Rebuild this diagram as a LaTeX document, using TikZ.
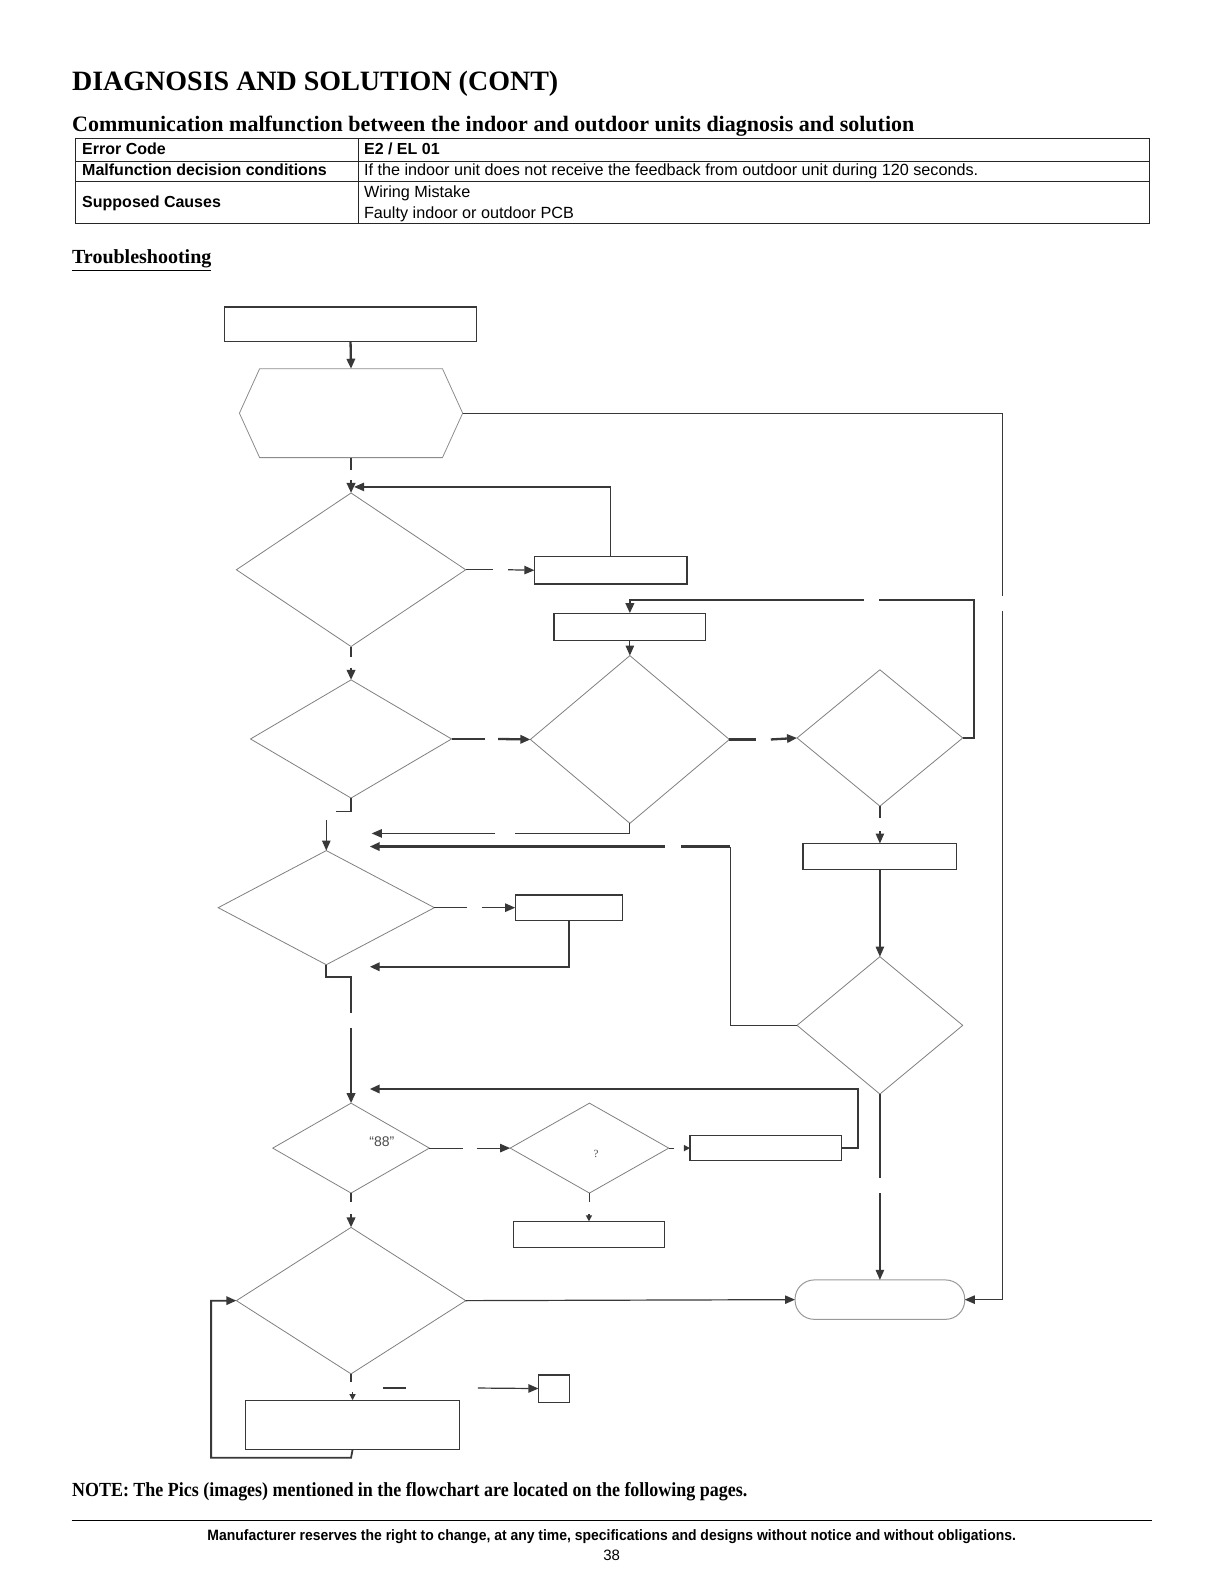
\documentclass[tikz,border=0pt]{standalone}
\usepackage{fontspec}
\setmainfont{Liberation Serif}
\setsansfont{Liberation Sans}
\usetikzlibrary{shapes.geometric,arrows.meta,calc}
\def\px{0.5051pt}
\begin{document}
\begin{tikzpicture}[x=0.5051pt,y=-0.5051pt,
  dia/.style={diamond, draw=black!50, line width=0.4pt, inner sep=0pt, outer sep=0pt},
  box/.style={rectangle, draw=black!78, line width=0.65pt, inner sep=0pt, outer sep=0pt},
  ln/.style={draw=black!78, line width=0.6pt},
  tk/.style={draw=black!78, line width=1.15pt},
  arr/.style={-{Triangle[length=5pt,width=4.2pt]}},
  sarr/.style={-{Triangle[length=3pt,width=3pt]}},
  tab/.style={font=\sffamily\fontsize{8.1}{9.6}\selectfont, anchor=base west, inner sep=0pt},
  tabb/.style={tab, font=\sffamily\bfseries\fontsize{8}{9.6}\selectfont}
]
\useasboundingbox[fill=white] (0,0) rectangle (1212,1568);

% ---- headings ----
\node[anchor=base west, inner sep=0pt, font=\bfseries\fontsize{14}{16}\selectfont] (title) at (71,90) {DIAGNOSIS AND SOLUTION (CONT)};
\node[anchor=base west, inner sep=0pt, font=\bfseries\fontsize{11}{13}\selectfont] (sub) at (71,130) {Communication malfunction between the indoor and outdoor units diagnosis and solution};

% ---- table ----
\draw[black!85, line width=0.6pt] (75,137) rectangle (1138,221);
\draw[black!85, line width=0.6pt] (75,160) -- (1138,160) (75,180) -- (1138,180) (355,137) -- (355,221);
\node[tabb] (t11) at (81,152.5) {Error Code};
\node[tabb] (t12) at (360,152.5) {E2 / EL 01};
\node[tabb] (t21) at (81,174) {Malfunction decision conditions};
\node[tab] (t22) at (360,174) {If the indoor unit does not receive the feedback from outdoor unit during 120 seconds.};
\node[tabb] (t31) at (81,205.5) {Supposed Causes};
\node[tab] (t32) at (360,196) {Wiring Mistake};
\node[tab] (t33) at (360,216) {Faulty indoor or outdoor PCB};

\node[anchor=base west, inner sep=0pt, font=\bfseries\fontsize{10}{12}\selectfont] (ts) at (71,261) {\underline{Troubleshooting}};

% ---- flowchart nodes ----
\node[box, minimum width=250*\px, minimum height=34*\px] (b0) at (347,321) {};
\node[minimum width=221*\px, minimum height=88*\px, inner sep=0pt, outer sep=0pt] (hex) at (347.5,409) {};
\draw[black!45, line width=0.4pt] (hex.west) -- ($(hex.north west)+(20,0)$) -- ($(hex.north east)+(-20,0)$) -- (hex.east) -- ($(hex.south east)+(-20,0)$) -- ($(hex.south west)+(20,0)$) -- cycle;

\node[dia, minimum width=227*\px, minimum height=152*\px] (d1) at (347.5,564) {};
\node[box, minimum width=151*\px, minimum height=27*\px] (r1) at (604.5,564.5) {};
\node[box, minimum width=150*\px, minimum height=27*\px] (r2) at (623.5,620.5) {};
\node[dia, minimum width=199*\px, minimum height=117*\px] (d2) at (347.5,731.5) {};
\node[dia, minimum width=197*\px, minimum height=166*\px] (d3) at (623.5,732) {};
\node[dia, minimum width=164*\px, minimum height=135*\px] (d4) at (871,730.5) {};
\node[box, minimum width=152*\px, minimum height=26*\px] (r3) at (871,848) {};
\node[dia, minimum width=164*\px, minimum height=136*\px] (d5) at (871,1015) {};
\node[dia, minimum width=214*\px, minimum height=113*\px] (d6) at (323,898.5) {};
\node[box, minimum width=106*\px, minimum height=25*\px] (r4) at (563,898.5) {};
\node[dia, minimum width=155*\px, minimum height=89*\px] (d7) at (347.5,1136.5) {};
\node[dia, minimum width=157*\px, minimum height=89*\px] (d8) at (583.5,1136.5) {};
\node[box, minimum width=150*\px, minimum height=25*\px] (r5) at (758,1136.5) {};
\node[box, minimum width=150*\px, minimum height=26*\px] (r6) at (583,1222) {};
\node[dia, minimum width=227*\px, minimum height=145*\px] (d9) at (347.5,1287.5) {};
\node[rectangle, rounded corners=19*\px, draw=black!40, line width=0.5pt, minimum width=168*\px, minimum height=39*\px, inner sep=0pt, outer sep=0pt] (term) at (871,1286.5) {};
\node[box, minimum width=212*\px, minimum height=49*\px] (r7) at (349,1410.5) {};
\node[box, minimum width=31*\px, minimum height=27*\px] (r8) at (548.5,1374.5) {};

\node[font=\sffamily\fontsize{7}{8}\selectfont, text=black!70, inner sep=0pt] (l88) at (378,1130) {“88”};
\node[font=\fontsize{5.5}{6}\selectfont, text=black!70, inner sep=0pt] (lq) at (590,1142) {?};

% ---- connectors ----
\draw[tk, arr] (b0.south) -- (hex.north);
\draw[ln] (hex.east) -- (992,409) -- (992,590);
\draw[ln, arr] (992,605) -- (992,1286.5) -- (term.east);

\draw[tk] (hex.south) -- ++(0,12);
\draw[tk, arr] ($(d1.north)+(0,-13)$) -- (d1.north);
\draw[ln, arr] (r1.north) |- ($(d1.north)+(3,-6)$);

\draw[ln] (d1.east) -- ++(27,0);
\draw[ln, arr] ($(d1.east)+(42,0)$) -- (r1.west);

\draw[tk] (d1.south) -- ++(0,10);
\draw[tk, arr] ($(d2.north)+(0,-12)$) -- (d2.north);

\draw[tk] (d2.east) -- ++(33,0);
\draw[tk, arr] ($(d2.east)+(46,0)$) -- (d3.west);
\draw[ln, arr] (r2.south) -- (d3.north);
\draw[tk] (d3.east) -- ++(26,0);
\draw[tk, arr] ($(d3.east)+(41,0)$) -- (d4.west);

\draw[tk] (d4.east) -- (964,730.5) -- (964,594) -- (870,594);
\draw[tk, arr] (855,594) -| (r2.north);

\draw[ln] (d4.south) -- ++(0,12);
\draw[ln, arr] ($(r3.north)+(0,-12)$) -- (r3.north);
\draw[ln, arr] (r3.south) -- (d5.north);

\draw[ln] (d5.west) -- (723,1015) -- (723,838);
\draw[tk] (723,838) -- (674,838);
\draw[tk, arr] (658,838) -- (366,838);

\draw[ln] (d3.south) -- (623.5,825) -- (510,825);
\draw[ln, arr] (490,825) -- (368,825);

\draw[ln] (d2.south) -- (347.5,803) -- (333,803);
\draw[ln, arr] (323,812) -- (d6.north);

\draw[ln] (d6.east) -- ++(32,0);
\draw[ln, arr] ($(d6.east)+(47,0)$) -- (r4.west);
\draw[tk, arr] (r4.south) |- (366,957);

\draw[tk] (d6.south) -- (323,967) -- (347.5,967) -- (347.5,1003);
\draw[tk, arr] (347.5,1018) -- (d7.north);

\draw[tk, arr] (r5.east) -- (849,1136.5) -- (849,1078) -- (366,1078);

\draw[ln] (d7.east) -- ++(33,0);
\draw[ln, arr] ($(d7.east)+(47,0)$) -- (d8.west);
\draw[ln] (d8.east) -- ++(5,0);
\draw[ln, sarr] ($(r5.west)+(-6,0)$) -- (r5.west);
\draw[ln] (d8.south) -- ++(0,9);
\draw[ln, sarr] ($(r6.north)+(0,-7)$) -- (r6.north);

\draw[ln] (d7.south) -- ++(0,9);
\draw[tk, arr] ($(d9.north)+(0,-13)$) -- (d9.north);

\draw[ln, arr] (d9.east) -- (term.west);
\draw[ln] (d5.south) -- (871,1166);
\draw[ln, arr] (871,1181) -- (term.north);

\draw[ln] (d9.south) -- ++(0,8);
\draw[ln, sarr] ($(r7.north)+(0,-8)$) -- (r7.north);
\draw[ln] (379,1374) -- (402,1374);
\draw[ln, arr] (473,1374) -- (r8.west);

\draw[tk, line width=0.9pt, arr] (r7.south) -- (347.5,1443) -- (209,1443) -- (209,1287.5) -- (d9.west);

% ---- footer ----
\node[anchor=base west, inner sep=0pt] (note) at (71,1481) {\scalebox{0.898}[1]{\bfseries\fontsize{10}{12}\selectfont NOTE: The Pics (images) mentioned in the flowchart are located on the following pages.}};
\draw[black, line width=0.6pt] (71,1505) -- (1140,1505);
\node[anchor=base, inner sep=0pt] (foot) at (605.5,1525) {\scalebox{0.93}[1]{\sffamily\bfseries\fontsize{7.5}{9}\selectfont Manufacturer reserves the right to change, at any time, specifications and designs without notice and without obligations.}};
\node[anchor=base, inner sep=0pt, font=\sffamily\fontsize{7.5}{9}\selectfont] (pg) at (605.5,1545) {38};
\end{tikzpicture}
\end{document}
